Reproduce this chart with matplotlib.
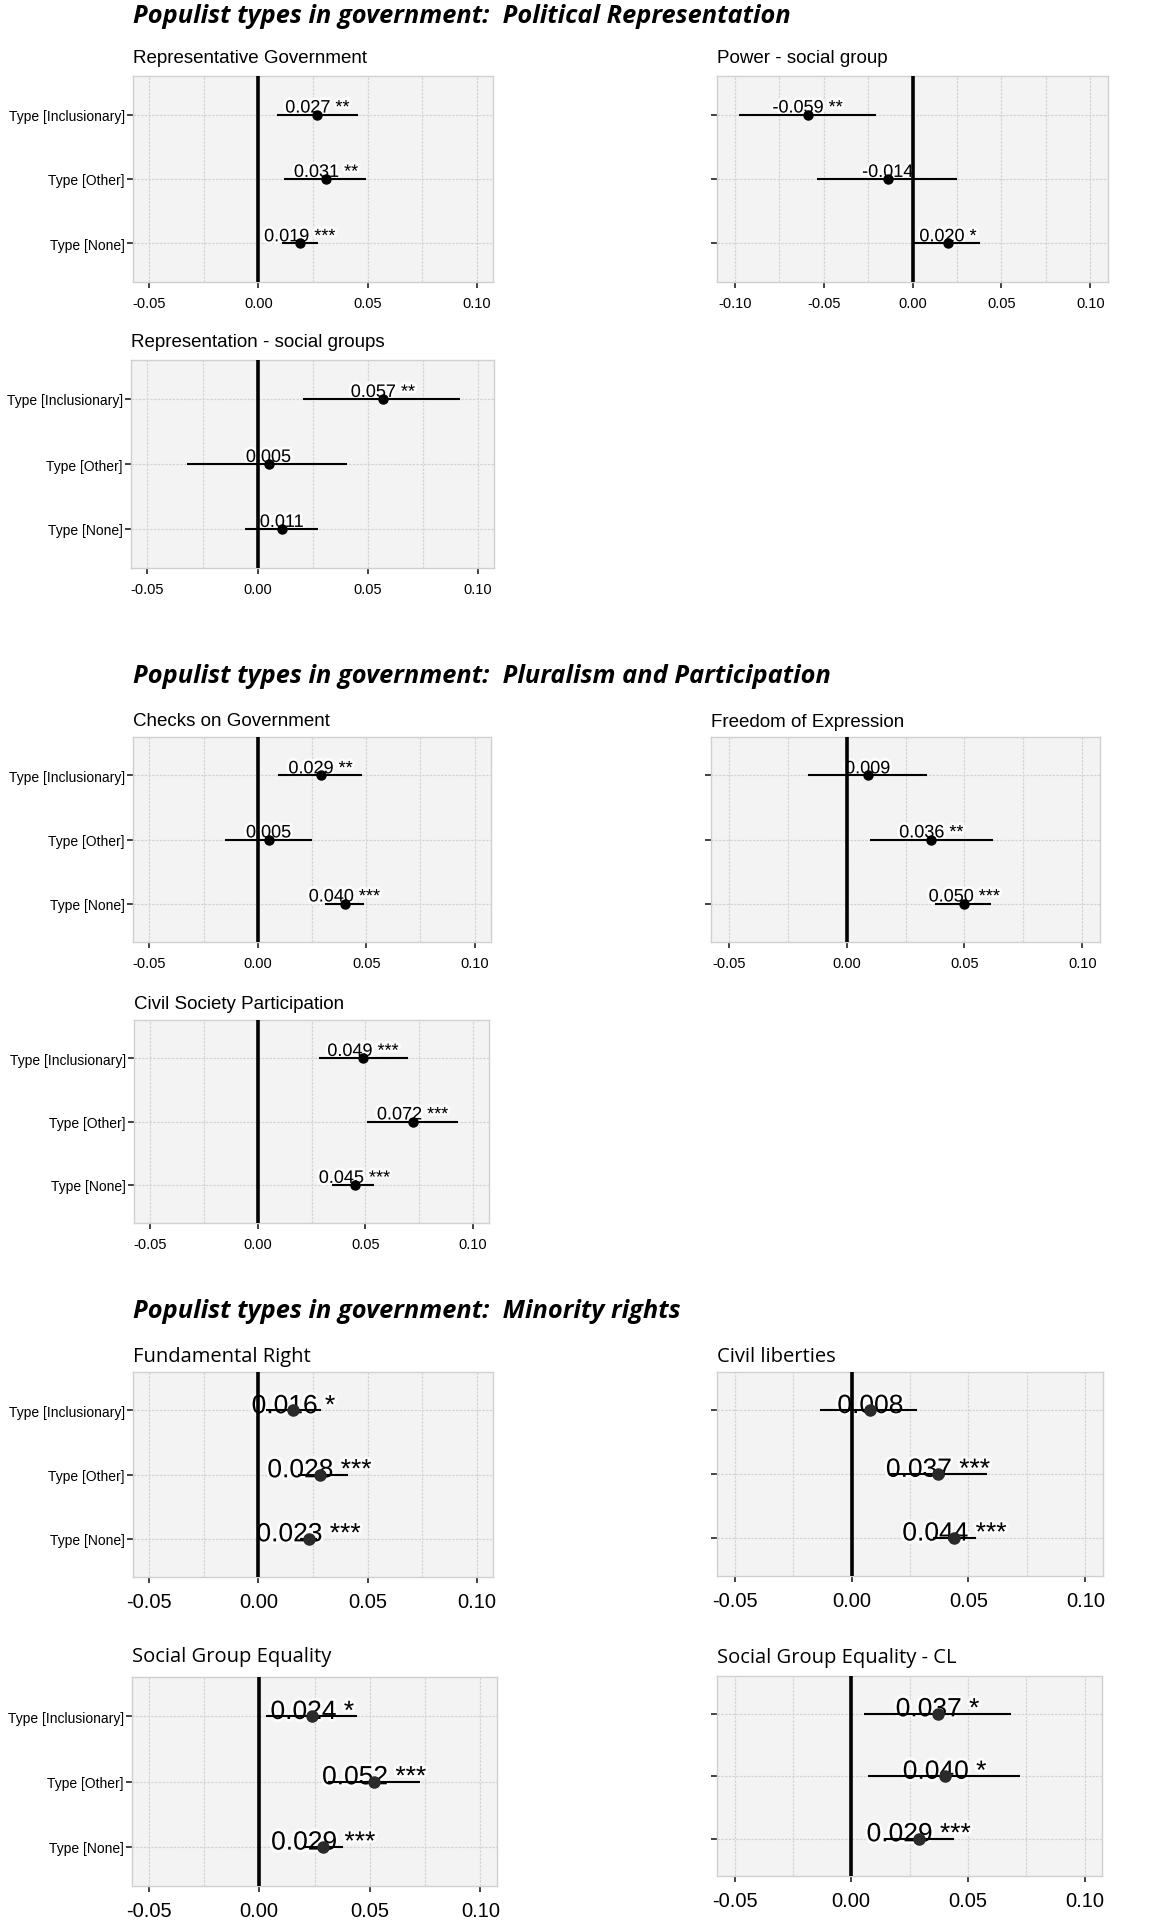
import matplotlib
matplotlib.use("Agg")
import matplotlib.pyplot as plt
import matplotlib.patheffects as pe
import numpy as np

plt.rcParams['axes.unicode_minus'] = False

# ---------------- data ----------------
row_labels = ["Type [Inclusionary]", "Type [Other]", "Type [None]"]

section_titles = [
    "Populist types in government:  Political Representation",
    "Populist types in government:  Pluralism and Participation",
    "Populist types in government:  Minority rights",
]

panel_titles = [
    "Representative Government", "Power - social group",
    "Representation - social groups",
    "Checks on Government", "Freedom of Expression",
    "Civil Society Participation",
    "Fundamental Right", "Civil liberties",
    "Social Group Equality", "Social Group Equality - CL",
]

# estimates (rows: Inclusionary, Other, None)
rep_gov_est = [0.027, 0.031, 0.019]
rep_gov_lo = [0.0087, 0.0115, 0.011]
rep_gov_hi = [0.0455, 0.0494, 0.0275]
rep_gov_sig = ["**", "**", "***"]

power_est = [-0.059, -0.014, 0.020]
power_lo = [-0.0974, -0.0539, 0.0004]
power_hi = [-0.0206, 0.0251, 0.0378]
power_sig = ["**", "", "*"]

repsoc_est = [0.057, 0.005, 0.011]
repsoc_lo = [0.0209, -0.032, -0.0056]
repsoc_hi = [0.092, 0.0408, 0.0277]
repsoc_sig = ["**", "", ""]

checks_est = [0.029, 0.005, 0.040]
checks_lo = [0.0091, -0.0151, 0.0312]
checks_hi = [0.048, 0.0248, 0.0489]
checks_sig = ["**", "", "***"]

freedom_est = [0.009, 0.036, 0.050]
freedom_lo = [-0.0165, 0.0098, 0.0375]
freedom_hi = [0.0341, 0.0621, 0.0614]
freedom_sig = ["", "**", "***"]

civsoc_est = [0.049, 0.072, 0.045]
civsoc_lo = [0.0283, 0.0508, 0.0345]
civsoc_hi = [0.0698, 0.0933, 0.0542]
civsoc_sig = ["***", "***", "***"]

fund_est = [0.016, 0.028, 0.023]
fund_lo = [0.0033, 0.018, 0.019]
fund_hi = [0.0286, 0.041, 0.027]
fund_sig = ["*", "***", "***"]

civlib_est = [0.008, 0.037, 0.044]
civlib_lo = [-0.0135, 0.016, 0.035]
civlib_hi = [0.0279, 0.0581, 0.0531]
civlib_sig = ["", "***", "***"]

sge_est = [0.024, 0.052, 0.029]
sge_lo = [0.003, 0.031, 0.020]
sge_hi = [0.044, 0.0727, 0.038]
sge_sig = ["*", "***", "***"]

sgecl_est = [0.037, 0.040, 0.029]
sgecl_lo = [0.0057, 0.0074, 0.014]
sgecl_hi = [0.0687, 0.0723, 0.044]
sgecl_sig = ["*", "*", "***"]

ticks_std = [-0.05, 0.00, 0.05, 0.10]
ticks_wide = [-0.10, -0.05, 0.00, 0.05, 0.10]
tick_labels_std = ["-0.05", "0.00", "0.05", "0.10"]
tick_labels_wide = ["-0.10", "-0.05", "0.00", "0.05", "0.10"]

panel_data = [
    (rep_gov_est, rep_gov_lo, rep_gov_hi, rep_gov_sig),
    (power_est, power_lo, power_hi, power_sig),
    (repsoc_est, repsoc_lo, repsoc_hi, repsoc_sig),
    (checks_est, checks_lo, checks_hi, checks_sig),
    (freedom_est, freedom_lo, freedom_hi, freedom_sig),
    (civsoc_est, civsoc_lo, civsoc_hi, civsoc_sig),
    (fund_est, fund_lo, fund_hi, fund_sig),
    (civlib_est, civlib_lo, civlib_hi, civlib_sig),
    (sge_est, sge_lo, sge_hi, sge_sig),
    (sgecl_est, sgecl_lo, sgecl_hi, sgecl_sig),
]

# ---------------- layout (pixels) ----------------
W, H = 1152, 1931
fig = plt.figure(figsize=(W / 100, H / 100), dpi=100)
fig.patch.set_facecolor("white")

# (left, top, right, bottom), show y labels, wide axis, section style, title baseline
layout = [
    ((133, 77, 493, 283), True, False, 0, 63),
    ((717, 77, 1108, 283), False, True, 0, 63),
    ((131, 361, 494, 569), True, False, 0, 347),
    ((133, 738, 491, 943), True, False, 0, 726),
    ((711, 738, 1100, 943), False, False, 0, 727),
    ((134, 1021, 489, 1224), True, False, 0, 1009),
    ((133, 1373, 493, 1578), True, False, 1, 1362),
    ((717, 1373, 1103, 1577), False, False, 1, 1362),
    ((132, 1678, 497, 1887), True, False, 1, 1662),
    ((717, 1677, 1102, 1877), False, False, 1, 1663),
]
section_title_pos = [(133, 23), (133, 683), (133, 1318)]

styles = {
    0: dict(title_font="Liberation Sans", title_size=13.5, xtick_size=10.5,
            ann_size=13, ann_dy=1.5, mk=6.5, mk_color="black", xpad=6),
    1: dict(title_font="Open Sans", title_size=14.5, xtick_size=14.5,
            ann_size=19, ann_dy=-2.0, mk=8, mk_color="#2a2a2a", xpad=7),
}

halo = [pe.withStroke(linewidth=4, foreground="white", alpha=0.8)]

for (est, lo, hi, sig), ptitle, (box, show_y, wide, sty, tbase) in zip(panel_data, panel_titles, layout):
    st = styles[sty]
    l, t, r, b = box
    ax = fig.add_axes([l / W, 1 - b / H, (r - l) / W, (b - t) / H])
    ax.set_facecolor("#f3f3f3")
    ypos = np.arange(len(row_labels))[::-1]
    if wide:
        ax.set_xlim(-0.11, 0.11)
        ax.set_xticks(ticks_wide)
        ax.set_xticklabels(tick_labels_wide)
        ax.set_xticks([-0.075, -0.025, 0.025, 0.075], minor=True)
    else:
        ax.set_xlim(-0.0575, 0.1075)
        ax.set_xticks(ticks_std)
        ax.set_xticklabels(tick_labels_std)
        ax.set_xticks([-0.025, 0.025, 0.075], minor=True)
    ax.set_ylim(-0.6, 2.6)
    ax.set_yticks(ypos)
    if show_y:
        ax.set_yticklabels(row_labels, fontsize=10, family="Liberation Sans")
    else:
        ax.set_yticklabels([])
    for lbl in ax.get_xticklabels():
        lbl.set_fontsize(st["xtick_size"])
        lbl.set_family("Liberation Sans")
    ax.grid(True, which="major", color="#d4d4d4", lw=0.9, ls=(0, (2, 1)))
    ax.grid(True, which="minor", axis="x", color="#d4d4d4", lw=0.9, ls=(0, (2, 1)))
    ax.set_axisbelow(True)
    for sp in ax.spines.values():
        sp.set_color("#d0d0d0")
        sp.set_linewidth(1.0)
    ax.tick_params(axis="both", which="major", length=4, width=1.3, color="#333333", pad=2)
    ax.tick_params(axis="x", which="minor", length=0)
    ax.tick_params(axis="x", which="major", pad=st["xpad"])

    for e, s, y in zip(est, sig, ypos):
        txt = f"{e:.3f} {s}".rstrip()
        ax.annotate(txt, (e, y), xytext=(0, st["ann_dy"]), textcoords="offset points",
                    ha="center", va="baseline", fontsize=st["ann_size"],
                    family="Liberation Sans", color="black", zorder=2.5,
                    path_effects=halo)
    ax.axvline(0, color="black", lw=2.6, zorder=2.7)
    ax.hlines(ypos, lo, hi, color="black", lw=1.5, zorder=3)
    ax.plot(est, ypos, "o", color=st["mk_color"], ms=st["mk"], zorder=4)
    fig.text(l / W, 1 - tbase / H, ptitle, ha="left", va="baseline",
             fontsize=st["title_size"], family=st["title_font"], color="black")

for txt, (x, y) in zip(section_titles, section_title_pos):
    fig.text(x / W, 1 - y / H, txt, ha="left", va="baseline", fontsize=18.3,
             family="Open Sans", weight="bold", style="italic", color="black")

fig.savefig("out.png", dpi=100, facecolor="white")
